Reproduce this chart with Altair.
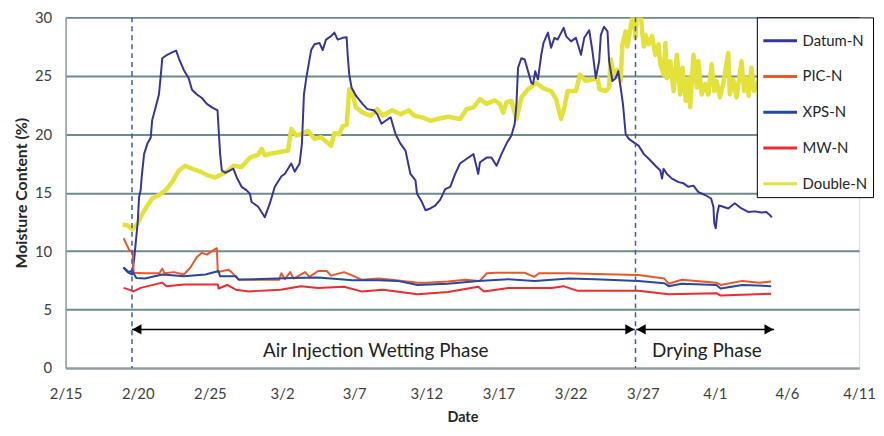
import json
import altair as alt
import pandas as pd

# ---------------- data (days after 2/15, moisture content %) ----------------
series_names = ["Datum-N", "PIC-N", "XPS-N", "MW-N", "Double-N"]
series_colors = ["#35359C", "#E8582A", "#2747A3", "#EE2B2E", "#E2E23A"]

tick_days = list(range(0, 56, 5))
tick_labels = ["2/15", "2/20", "2/25", "3/2", "3/7", "3/12", "3/17", "3/22",
               "3/27", "4/1", "4/6", "4/11"]
y_ticks = [0, 5, 10, 15, 20, 25, 30]

datum_days = [4.0, 4.3, 4.6, 4.75, 4.86, 5.0, 5.09, 5.2, 5.27, 5.44, 5.67, 5.9, 6.0, 6.24,
              6.47, 6.58, 6.7, 7.04, 7.38, 7.66, 7.85, 8.19, 8.53, 8.76, 9.1, 9.45, 9.79,
              10.14, 10.53, 10.6, 10.71, 10.83, 11.06, 11.63, 11.86, 12.2, 12.55, 12.78,
              12.89, 13.35, 13.81, 14.16, 14.5, 14.96, 15.19, 15.64, 15.88, 16.22, 16.38,
              16.52, 16.68, 17.02, 17.25, 17.6, 17.82, 18.05, 18.4, 18.63, 18.86, 19.2,
              19.48, 19.55, 19.66, 19.82, 20.12, 20.58, 20.92, 21.38, 21.61, 21.89, 22.18,
              22.53, 22.87, 23.21, 23.56, 23.9, 24.25, 24.36, 24.7, 24.94, 25.28, 25.62,
              25.97, 26.31, 26.66, 27.0, 27.34, 27.8, 28.27, 28.6, 28.72, 29.18, 29.52,
              29.87, 30.21, 30.56, 30.9, 31.13, 31.25, 31.36, 31.59, 31.82, 32.05, 32.28,
              32.4, 32.55, 32.74, 32.97, 33.12, 33.43, 33.65, 33.88, 34.1, 34.27, 34.52,
              34.69, 35.03, 35.37, 35.72, 35.95, 36.29, 36.52, 36.75, 36.98, 37.1, 37.32,
              37.56, 37.67, 37.9, 38.13, 38.31, 38.47, 38.63, 38.82, 39.04, 39.5, 39.73,
              40.08, 40.42, 40.88, 41.22, 41.34, 41.45, 41.68, 42.03, 42.49, 42.83, 43.17,
              43.52, 43.86, 44.32, 44.74, 44.9, 44.96, 45.06, 45.17, 45.29, 45.58, 45.93,
              46.38, 46.85, 47.3, 47.76, 48.22, 48.57, 48.8, 48.95]
datum_vals = [8.6, 8.2, 8.0, 9.3, 10.7, 12.5, 14.6, 15.2, 16.3, 18.3, 19.2, 19.7, 21.2, 22.3,
              23.4, 24.8, 26.5, 26.8, 27.0, 27.15, 26.5, 25.5, 24.8, 23.8, 23.4, 23.1, 22.6,
              22.3, 22.05, 20.6, 18.3, 16.9, 16.7, 17.05, 16.3, 15.5, 15.2, 14.9,
              14.2, 13.8, 12.9, 14.1, 15.5, 16.4, 16.6, 17.5, 16.8, 17.5, 19.2,
              23.4, 24.8, 27.2, 27.7, 27.8, 27.2, 28.1, 28.4, 28.7, 28.1, 28.25,
              28.3, 26.8, 25.1, 24.0, 23.3, 22.6, 22.15, 22.05, 21.7, 20.9, 21.15,
              21.45, 20.0, 19.2, 18.6, 16.6, 16.05, 14.9, 14.2, 13.5, 13.65, 13.9,
              14.4, 15.3, 15.5, 16.6, 17.5, 17.9, 18.3, 16.6, 17.6, 18.0, 18.0,
              17.3, 18.3, 19.2, 19.9, 20.9, 22.6, 25.7, 26.5, 26.4, 25.4, 24.4,
              24.3, 25.4, 24.7, 26.8, 27.8, 28.7, 27.4, 28.25, 28.1, 28.5, 29.1,
              28.4, 27.95, 28.25, 26.8, 28.25, 28.9, 27.1, 24.8, 26.25, 28.5, 29.2,
              28.8, 26.25, 24.55, 24.8, 25.4, 24.0, 22.6, 20.0, 19.6, 19.2, 19.0,
              18.3, 17.9, 17.3, 16.9, 16.2, 17.05, 16.6, 16.2, 15.9, 15.8, 15.5,
              15.6, 15.05, 14.8, 14.5, 13.8, 12.4, 11.95, 13.2, 13.9, 13.8, 13.65,
              14.1, 13.65, 13.35, 13.4, 13.3, 13.35, 13.1, 12.9]

pic_days = [4.02, 4.4, 4.65, 4.72, 5.5, 6.5, 6.7, 6.85, 7.5, 8.2, 8.65, 9.1, 9.45, 9.8,
            10.14, 10.48, 10.55, 11.29, 11.5, 11.95, 13.0, 14.8, 14.95, 15.2, 15.57, 15.8,
            16.6, 16.9, 17.5, 18.1, 18.4, 19.3, 19.9, 20.5, 21.7, 22.6, 24.4, 25.0, 26.5,
            27.7, 28.7, 29.2, 29.8, 31.8, 32.5, 32.8, 33.7, 34.9, 36.7, 39.7, 41.5, 41.8,
            42.7, 45.1, 45.4, 46.9, 48.1, 48.9]
pic_vals = [11.1, 10.1, 9.9, 8.15, 8.1, 8.1, 8.5, 8.1, 8.2, 8.0, 8.6, 9.5, 9.85, 9.7,
            10.0, 10.25, 8.2, 8.4, 8.2, 7.6, 7.55, 7.55, 8.1, 7.6, 8.2, 7.65,
            8.2, 7.8, 8.3, 8.3, 7.9, 8.2, 7.9, 7.55, 7.65, 7.55, 7.3, 7.3, 7.4,
            7.55, 7.45, 8.1, 8.15, 8.15, 7.8, 8.1, 8.1, 8.1, 8.05, 7.95, 7.65, 7.2,
            7.55, 7.3, 7.1, 7.45, 7.3, 7.4]

xps_days = [4.02, 4.4, 4.6, 4.9, 5.5, 6.7, 8.2, 9.7, 10.6, 10.7, 11.8, 12.0, 15.7, 17.5,
            19.9, 21.7, 23.0, 24.4, 26.5, 28.6, 30.7, 32.5, 34.9, 36.7, 39.7, 41.5, 41.8,
            42.7, 45.1, 45.4, 46.9, 48.9]
xps_vals = [8.6, 8.2, 8.35, 7.7, 7.65, 8.0, 7.85, 8.0, 8.3, 7.85, 7.85, 7.55, 7.7, 7.75,
            7.5, 7.5, 7.45, 7.1, 7.2, 7.45, 7.6, 7.45, 7.65, 7.6, 7.45, 7.25, 7.0,
            7.2, 7.1, 6.8, 7.1, 7.0]

mw_days = [4.02, 4.4, 4.7, 5.2, 6.7, 7.0, 8.2, 10.55, 10.6, 11.2, 11.8, 12.7, 14.9, 16.3,
           17.5, 19.3, 20.5, 22.0, 24.4, 26.5, 28.6, 29.0, 30.7, 33.7, 34.5, 35.5, 39.7,
           41.8, 45.1, 45.4, 48.9]
mw_vals = [6.85, 6.7, 6.55, 6.85, 7.3, 7.0, 7.15, 7.15, 6.8, 7.1, 6.7, 6.55, 6.7, 7.0,
           6.85, 6.95, 6.55, 6.7, 6.3, 6.5, 6.95, 6.55, 6.85, 6.85, 7.0, 6.6, 6.6,
           6.3, 6.4, 6.2, 6.35]

double_days = [3.95, 4.3, 4.63, 4.98, 5.32, 5.67, 6.0, 6.47, 6.93, 7.38, 7.85, 8.3, 8.76,
               9.34, 9.8, 10.37, 10.83, 11.29, 11.63, 12.2, 12.78, 13.35, 13.58, 13.81,
               14.27, 14.96, 15.42, 15.64, 15.99, 16.33, 16.8, 17.25, 17.71, 18.4, 18.63,
               18.97, 19.2, 19.48, 19.66, 19.89, 20.12, 20.58, 21.15, 21.61, 21.96, 22.64,
               23.21, 23.79, 24.14, 24.82, 25.28, 25.74, 26.54, 27.34, 27.8, 28.27, 28.72,
               29.18, 29.75, 30.1, 30.33, 30.56, 30.9, 31.25, 31.59, 32.05, 32.62, 33.08,
               33.65, 34.0, 34.34, 34.57, 34.8, 35.37, 35.65, 36.06, 36.52, 36.87, 37.0,
               37.44, 37.67, 37.78, 38.0, 38.24, 38.47, 38.59, 38.82, 38.93, 39.04, 39.23,
               39.39, 39.5, 39.6, 39.85, 39.96, 40.08, 40.19, 40.42, 40.65, 40.88, 41.1,
               41.22, 41.45, 41.57, 41.68, 41.91, 42.14, 42.37, 42.6, 42.76, 42.99, 43.17,
               43.29, 43.52, 43.75, 43.86, 44.09, 44.32, 44.55, 44.78, 44.96, 45.12, 45.35,
               45.58, 45.93, 46.04, 46.27, 46.5, 46.85, 47.03, 47.19, 47.35, 47.54, 47.72,
               48.0, 48.3, 48.6, 48.9]
double_vals = [12.25, 12.2, 11.85, 12.35, 13.2, 13.9, 14.5, 14.8, 15.2, 15.9, 16.9, 17.3, 17.05,
               16.8, 16.5, 16.3, 16.6, 16.9, 17.3, 17.2, 18.0, 18.25, 18.75, 18.2,
               18.35, 18.5, 18.6, 20.45, 19.9, 20.0, 20.3, 19.6, 19.75, 19.0, 20.1,
               20.0, 20.7, 20.8, 23.85, 23.4, 22.3, 21.85, 21.6, 22.15, 21.6, 22.05,
               21.7, 22.05, 21.6, 21.4, 21.15, 21.3, 21.5, 21.3, 22.15, 22.3, 23.0,
               22.6, 22.9, 22.6, 21.85, 22.75, 22.85, 21.3, 23.15, 23.85, 24.4, 23.95,
               23.7, 23.0, 21.3, 22.3, 23.7, 23.7, 25.1, 24.55, 24.7, 24.8, 23.85,
               23.7, 24.0, 26.4, 25.1, 25.5, 24.55, 27.7, 28.8, 27.5, 28.25, 29.65,
               30.5, 28.25, 30.5, 30.5, 28.8, 27.5, 28.5, 27.7, 28.4, 26.8, 27.7,
               26.0, 25.1, 27.8, 24.8, 26.25, 23.7, 26.8, 23.4, 25.7, 22.85, 24.8,
               22.3, 26.8, 24.0, 26.25, 23.4, 24.3, 23.4, 26.0, 23.7, 24.55, 23.15,
               24.3, 26.95, 23.4, 24.7, 23.15, 26.25, 23.7, 24.8, 23.3, 25.7, 23.7,
               24.5, 23.6, 24.8, 24.0]

phase_boundaries = [4.6, 39.5]
phase_names = ["Air Injection Wetting Phase", "Drying Phase"]
phase_start = [4.6, 39.55]
phase_end = [39.45, 49.1]
phase_label_day = [21.5, 44.45]
arrow_level = 3.3
label_level = 1.45

# ---------------- build tables ----------------
rows = []
for name, dd, vv in [("Datum-N", datum_days, datum_vals), ("PIC-N", pic_days, pic_vals),
                     ("XPS-N", xps_days, xps_vals), ("MW-N", mw_days, mw_vals),
                     ("Double-N", double_days, double_vals)]:
    for i, (d, v) in enumerate(zip(dd, vv)):
        rows.append({"series": name, "day": d, "value": v, "idx": i})
lines_df = pd.DataFrame(rows)

bound_df = pd.DataFrame({"day": phase_boundaries})
arrow_df = pd.DataFrame({"name": phase_names, "day": phase_start, "day2": phase_end,
                         "value": [arrow_level] * 2})
label_df = pd.DataFrame({"name": phase_names, "day": phase_label_day,
                         "value": [label_level] * 2})

FONT = "Lato"
label_expr = json.dumps(tick_labels) + "[round(datum.value / 5)]"

x_main = alt.X("day:Q", title="Date",
               scale=alt.Scale(domain=[0, 55], nice=False, zero=False),
               axis=alt.Axis(values=tick_days, labelExpr=label_expr, grid=False, ticks=False,
                             domainColor="#8C9C9C", domainWidth=1.5,
                             labelFontSize=15, labelFont=FONT, labelColor="#404040",
                             labelPadding=19, labelFlush=False, labelBound=False,
                             titleFontSize=14.5, titleFont=FONT, titleFontWeight="bold",
                             titleColor="#262626", titleX=399.5, titleY=50,
                             titleBaseline="middle", titleAlign="center"))
y_main = alt.Y("value:Q", title="Moisture Content (%)",
               scale=alt.Scale(domain=[0, 30], nice=False),
               axis=alt.Axis(values=y_ticks, grid=True, gridColor="#6E8A8C", gridWidth=2,
                             ticks=False, domainColor="#8C9C9C", domainWidth=1.5,
                             labelFontSize=15, labelFont=FONT, labelColor="#404040",
                             labelPadding=14,
                             titleFontSize=16, titleFont=FONT, titleFontWeight="bold",
                             titleColor="#262626", titleX=-44, titleY=176.5,
                             titleAngle=-90, titleBaseline="middle", titleAlign="center"))

legend = alt.Legend(title=None, orient="none", legendX=696, legendY=0,
                    fillColor="white", strokeColor="black", padding=5,
                    rowPadding=9, symbolType="stroke", symbolSize=1150,
                    symbolStrokeWidth=3, labelFontSize=15, labelFont=FONT,
                    labelColor="#262626", labelOffset=4)

color_enc = alt.Color("series:N", scale=alt.Scale(domain=series_names, range=series_colors),
                      legend=legend)

yellow = alt.Chart(lines_df).transform_filter(alt.datum.series == "Double-N").mark_line(
    clip=True, strokeJoin="round", strokeWidth=4.5).encode(
    x=x_main, y=y_main, color=color_enc, order="idx:Q")

others = alt.Chart(lines_df).transform_filter(alt.datum.series != "Double-N").mark_line(
    clip=True, strokeJoin="round", strokeWidth=2).encode(
    x=alt.X("day:Q", title="Date"), y=alt.Y("value:Q", title="Moisture Content (%)"),
    color=color_enc, order="idx:Q")

bounds = alt.Chart(bound_df).mark_rule(color="#3A5BB0", strokeDash=[5, 4],
                                       strokeWidth=1.5).encode(
    x=alt.X("day:Q", title="Date"))

arrows = alt.Chart(arrow_df).mark_rule(color="black", strokeWidth=1.5).encode(
    x=alt.X("day:Q", title="Date"), x2="day2:Q",
    y=alt.Y("value:Q", title="Moisture Content (%)"))

heads_left = alt.Chart(arrow_df).mark_point(shape="triangle-left", filled=True,
                                            color="black", size=110, opacity=1).encode(
    x=alt.X("day:Q", title="Date"), y=alt.Y("value:Q", title="Moisture Content (%)"),
    xOffset=alt.value(5))

heads_right = alt.Chart(arrow_df).mark_point(shape="triangle-right", filled=True,
                                             color="black", size=110, opacity=1).encode(
    x=alt.X("day2:Q", title="Date"), y=alt.Y("value:Q", title="Moisture Content (%)"),
    xOffset=alt.value(-5))

labels = alt.Chart(label_df).mark_text(fontSize=19, font=FONT, color="#222222").encode(
    x=alt.X("day:Q", title="Date"), y=alt.Y("value:Q", title="Moisture Content (%)"),
    text="name:N")

chart = alt.layer(yellow, others, bounds, arrows, heads_left, heads_right, labels).properties(
    width=799, height=353,
    autosize=alt.AutoSizeParams(type="none"),
    padding={"left": 58, "top": 8, "right": 17, "bottom": 57},
).configure_view(stroke=None).configure(background="white")

chart.save("out.html", embed_options={"renderer": "svg", "actions": False})
